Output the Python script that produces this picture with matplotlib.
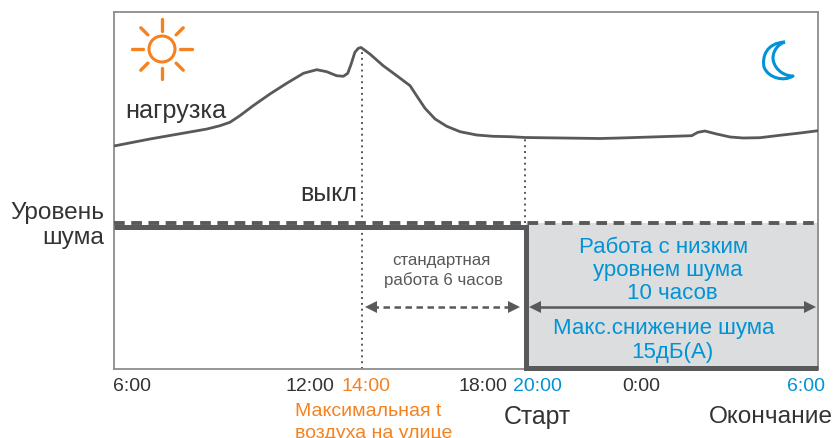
import numpy as np
import matplotlib
matplotlib.use("Agg")
import matplotlib.pyplot as plt
from matplotlib.patches import Circle, PathPatch
from matplotlib.path import Path

plt.rcParams['font.family'] = ['Liberation Sans', 'DejaVu Sans']

# Data: hours after midnight (30 = 6:00 next day), height above baseline
load_hours = [6, 7.16, 8.45, 9.0, 9.42, 9.74, 10.06, 10.49, 11.03, 11.57, 12.11, 12.54, 12.86, 13.18, 13.40,
              13.54, 13.65, 13.77, 13.88, 13.97, 14.29, 14.78, 15.28, 15.77, 16.01, 16.32, 16.69, 17.12,
              17.61, 18.22, 18.82, 19.45, 20, 22.56, 23.24, 25.69, 25.90, 26.14, 26.54, 27.0, 27.44, 28.02,
              28.70, 29.39, 30]
load_level = [223, 230, 237, 240, 243.3, 246.7, 253.3, 263.3, 275, 285.7, 295.7, 299.3, 297.3, 293.3, 292.7,
              295.7, 305, 316.7, 320.7, 321.5, 315, 303.3, 293.3, 283.3, 273.3, 260.7, 250, 242.7,
              237.3, 234, 232.7, 232.3, 231.5, 230.5, 231, 233.3, 236.7, 238, 235, 232, 231, 231.3,
              233.7, 236, 238.3]
dashed_level = 146.5
noise_hours = [6, 20.05, 20.05, 30]
noise_level = [142.5, 142.5, 1, 1]
off_hour = 14
start_hour = 20
off_top = 321
start_top = 231

tick_labels = ["6:00", "12:00", "14:00", "18:00", "20:00", "0:00", "6:00"]

GREY = "#58595B"
ORANGE = "#F58220"
BLUE = "#0093D6"
FILL = "#DCDDDE"

W, H = 834, 439
fig = plt.figure(figsize=(W / 100, H / 100), dpi=100, facecolor="white")
ax = fig.add_axes([114 / W, 1 - 370 / H, (818 - 114) / W, (370 - 13) / H])

anchor_h = [6, 14, 20, 30]
anchor_p = [0, 248, 411, 704]
ax.set_xscale("function", functions=(lambda v: np.interp(v, anchor_h, anchor_p),
                                     lambda v: np.interp(v, anchor_p, anchor_h)))
ax.set_xlim(6, 30)
ax.set_ylim(0, 357)
ax.set_xticks([])
ax.set_yticks([])
ax.minorticks_off()
for s in ax.spines.values():
    s.set_color("#8A8C8E")
    s.set_linewidth(1.3)

ax.fill_between([20.05, 30], 1, dashed_level, color=FILL, lw=0, zorder=1)
ax.plot(load_hours, load_level, color=GREY, lw=2, zorder=3, solid_capstyle="butt", solid_joinstyle="round")
ax.plot([off_hour, off_hour], [0, off_top], color=GREY, lw=1.4, ls=(0, (1, 2)), zorder=2)
ax.plot([start_hour, start_hour], [dashed_level, start_top], color=GREY, lw=1.4, ls=(0, (1, 2)), zorder=2)
ax.plot([6, 30], [dashed_level, dashed_level], color=GREY, lw=2.8, ls=(0, (2.75, 1.68)), zorder=4)
ax.plot(noise_hours, noise_level, color=GREY, lw=3.6, zorder=5, clip_on=False,
        solid_joinstyle="miter", solid_capstyle="butt")

# overlay in reference pixels
ov = fig.add_axes([0, 0, 1, 1], facecolor="none")
ov.set_xlim(0, W)
ov.set_ylim(H, 0)
ov.axis("off")


def txt(x, y, s, size, color="#231F20", ha="center"):
    ov.text(x, y + 1.2, s, fontsize=size, color=color, ha=ha, va="center")


txt(125, 110, "нагрузка", 18.2, "#333333", "left")
txt(329, 193, "выкл", 18, "#333333")
txt(104, 212, "Уровень", 17.6, "#333333", "right")
txt(104, 237, "шума", 17.6, "#333333", "right")
txt(441, 259, "стандартная", 12.2, GREY)
txt(443, 279, "работа 6 часов", 12.2, GREY)
txt(664, 246, "Работа с низким", 16, BLUE)
txt(668, 269, "уровнем шума", 16, BLUE)
txt(672, 292, "10 часов", 16, BLUE)
txt(664, 327, "Макс.снижение шума", 16, BLUE)
txt(672, 351, "15дБ(А)", 16, BLUE)

label_x = [132, 310, 366, 483, 537, 641, 806]
label_colors = ["#333333", "#333333", ORANGE, "#333333", BLUE, "#333333", BLUE]
for x, s, c in zip(label_x, tick_labels, label_colors):
    txt(x, 385, s, 14, c)
txt(368, 410, "Максимальная t", 14, ORANGE)
txt(374, 432, "воздуха на улице", 14, ORANGE)
txt(537, 416, "Старт", 17.9, "#333333")
txt(771, 416, "Окончание", 17.6, "#333333")

# arrows
ov.plot([372, 512], [308, 308], color=GREY, lw=1.8, ls=(0, (2.6, 1.8)))
ov.plot([536, 808], [308, 308], color=GREY, lw=1.8)
for x, m in [(371, "<"), (514, ">"), (535, "<"), (810, ">")]:
    ov.plot([x], [308], marker=m, ms=8.5, color=GREY, mew=0)

# sun
ov.add_patch(Circle((162, 50), 13, fc="none", ec=ORANGE, lw=2.2))
for deg in range(0, 360, 45):
    a = np.deg2rad(deg)
    r0 = 18.5 if deg % 90 == 0 else 20
    ov.plot([162 + r0 * np.cos(a), 162 + 30 * np.cos(a)],
            [50 + r0 * np.sin(a), 50 + 30 * np.sin(a)],
            color=ORANGE, lw=2.4, solid_capstyle="round")

# moon
moon = Path([(785, 43), (766, 44), (762, 58), (764, 68), (768, 79), (784, 83), (793, 77),
             (781, 77), (773, 67), (773, 59), (773, 52), (778, 45), (785, 43)],
            [Path.MOVETO] + [Path.CURVE4] * 12)
ov.add_patch(PathPatch(moon, fc="none", ec=BLUE, lw=2.2, joinstyle="round"))

fig.savefig("out.png", dpi=100)
